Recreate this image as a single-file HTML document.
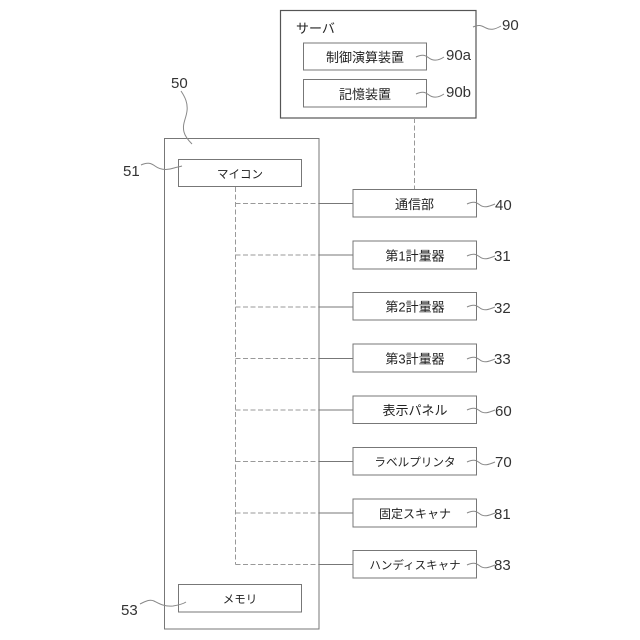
<!DOCTYPE html>
<html><head><meta charset="utf-8">
<style>
html,body{margin:0;padding:0;background:#fff;width:640px;height:640px;overflow:hidden}
svg{display:block}
text{font-family:"Liberation Sans","Noto Sans CJK JP",sans-serif;fill:#222}
.j{font-size:12px;text-anchor:middle}
.k{font-size:13px;text-anchor:middle}
.n{font-size:15px;fill:#333}
.b{fill:#fff;stroke:#777;stroke-width:1}
.w{fill:none;stroke:#888;stroke-width:1}
.d{fill:none;stroke:#999;stroke-width:1;stroke-dasharray:5 2.5}
.s{fill:none;stroke:#777;stroke-width:1}
</style></head><body>
<svg width="640" height="640" viewBox="0 0 640 640" xmlns="http://www.w3.org/2000/svg">
<rect class="b" x="280.5" y="10.5" width="195.5" height="107.5" style="stroke:#555;stroke-width:1.2"/>
<text x="296" y="33" style="font-size:13px">サーバ</text>
<rect class="b" x="303.5" y="43" width="123" height="27"/>
<text class="k" x="365" y="62">制御演算装置</text>
<rect class="b" x="303.5" y="79.5" width="123" height="27.5"/>
<text class="k" x="365" y="99">記憶装置</text>
<text class="n" x="502" y="30">90</text>
<text class="n" x="446" y="60">90a</text>
<text class="n" x="446" y="97">90b</text>
<path class="w" d="M473 27c6-3 9-1 13 1s8 2 15-2"/>
<path class="w" d="M416 57c6-3 9-2 13 1s9 3 15-1"/>
<path class="w" d="M416 94c6-3 9-2 13 1s9 3 15-1"/>

<rect class="b" x="164.5" y="138.5" width="154.5" height="490.5"/>
<text class="n" x="171" y="88">50</text>
<path class="w" d="M181 91c4 6 7 12 6 20s-5 13-3 21c1 4 4 8 8 12"/>
<rect class="b" x="178.5" y="159.5" width="123" height="27"/>
<text class="j" x="240" y="178" style="font-size:11.5px">マイコン</text>
<text class="n" x="123" y="176">51</text>
<path class="w" d="M141 165c6-3 10-2 14 1s10 5 19 2c3-1 5-1 8-2"/>
<rect class="b" x="178.5" y="584.5" width="123" height="27.5"/>
<text class="j" x="240" y="603" style="font-size:11.5px">メモリ</text>
<text class="n" x="121" y="615">53</text>
<path class="w" d="M140 604c6-3 10-5 14-3s10 6 19 5c6-1 10-2 13-4"/>

<path class="d" d="M414.5 118V189"/>
<path class="d" d="M235.5 187V564.5"/>
<path class="d" d="M235.5 203.5H319M235.5 255H319M235.5 307H319M235.5 358.5H319M235.5 410H319M235.5 461.5H319M235.5 513H319M235.5 564.5H319"/>
<path class="s" d="M319 203.5H353M319 255H353M319 307H353M319 358.5H353M319 410H353M319 461.5H353M319 513H353M319 564.5H353"/>

<g>
<rect class="b" x="353" y="189.5" width="123.5" height="27.5"/>
<text class="k" x="414.5" y="209">通信部</text>
<rect class="b" x="353" y="241" width="123.5" height="28"/>
<text class="k" x="415" y="260.5">第1計量器</text>
<rect class="b" x="353" y="292.5" width="123.5" height="27.5"/>
<text class="k" x="415" y="311.5">第2計量器</text>
<rect class="b" x="353" y="344" width="123.5" height="28"/>
<text class="k" x="415" y="363.5">第3計量器</text>
<rect class="b" x="353" y="396" width="123.5" height="27.5"/>
<text class="k" x="415" y="415">表示パネル</text>
<rect class="b" x="353" y="447.5" width="123.5" height="27.5"/>
<text class="j" x="415" y="466" style="font-size:11.6px">ラベルプリンタ</text>
<rect class="b" x="353" y="499" width="123.5" height="28"/>
<text class="j" x="415" y="518">固定スキャナ</text>
<rect class="b" x="353" y="550.5" width="123.5" height="27.5"/>
<text class="j" x="415" y="569" style="font-size:11.5px">ハンディスキャナ</text>
</g>

<g>
<text class="n" x="495" y="210">40</text>
<text class="n" x="494" y="261">31</text>
<text class="n" x="494" y="313">32</text>
<text class="n" x="494" y="364">33</text>
<text class="n" x="495" y="416">60</text>
<text class="n" x="495" y="467">70</text>
<text class="n" x="494" y="519">81</text>
<text class="n" x="494" y="570">83</text>
<path class="w" d="M467 204c6-3 9-2 13 1s8 2 15-1"/>
<path class="w" d="M467 256c6-3 9-2 13 1s8 2 15-1"/>
<path class="w" d="M467 307c6-3 9-2 13 1s8 2 15-1"/>
<path class="w" d="M467 359c6-3 9-2 13 1s8 2 15-1"/>
<path class="w" d="M467 410c6-3 9-2 13 1s8 2 15-1"/>
<path class="w" d="M467 462c6-3 9-2 13 1s8 2 15-1"/>
<path class="w" d="M467 513c6-3 9-2 13 1s8 2 15-1"/>
<path class="w" d="M467 565c6-3 9-2 13 1s8 2 15-1"/>
</g>
</svg>
</body></html>
